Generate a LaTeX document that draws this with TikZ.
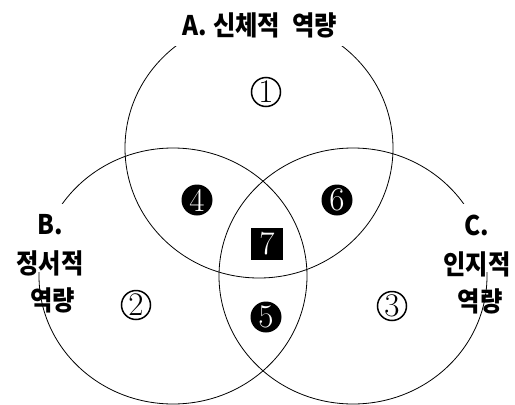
\documentclass[tikz,border=0pt]{standalone}
\usepackage{fontspec}
\usetikzlibrary{shapes.geometric}
\newfontfamily\kr{Noto Sans CJK KR}[FakeStretch=0.9]
\begin{document}
\begin{tikzpicture}[x=1pt,y=-1pt,
  setbox/.style={ellipse, draw, line width=0.8pt, minimum width=268pt, minimum height=256pt, inner sep=0pt},
  lab/.style={font=\kr\bfseries\fontsize{27}{39}\selectfont, align=center, inner sep=0pt},
  numfont/.style={font=\fontsize{33}{33}\selectfont},
  wnum/.style={numfont, circle, draw, line width=1.5pt, minimum size=29pt, inner sep=0pt},
  bnum/.style={numfont, circle, fill=black, text=white, minimum size=31pt, inner sep=0pt},
  snum/.style={numfont, rectangle, fill=black, text=white, minimum size=32pt, inner sep=0pt}]
\useasboundingbox (0,0) rectangle (515,405);
\node[setbox, minimum height=260pt] (A) at (259,148) {};
\node[setbox] (B) at (173,276) {};
\node[setbox] (C) at (353,276) {};
% white masks behind the labels
\fill[white] (150,0) rectangle (370,46);
\fill[white] (8,204) rectangle (94,272);
\fill[white] (438,204) rectangle (515,272);
% labels
\node[lab] (LA) at (260,25) {A.\ 신체적\hspace{0.25em} 역량};
\node[lab] (LB) at (50,245) {B.\\정서적};
\node[lab] (LB2) at (53,300) {역량};
\node[lab] (LC) at (477,246) {C.\\인지적};
\node[lab] (LC2) at (480,301) {역량};
% regions
\node[wnum] (n1) at (266,92) {1};
\node[wnum] (n2) at (136,305) {2};
\node[wnum] (n3) at (392,306) {3};
\node[bnum] (n4) at (197,200) {4};
\node[bnum] (n5) at (266,317) {5};
\node[bnum] (n6) at (337,200) {6};
\node[snum] (n7) at (267,244) {7};
\end{tikzpicture}
\end{document}
